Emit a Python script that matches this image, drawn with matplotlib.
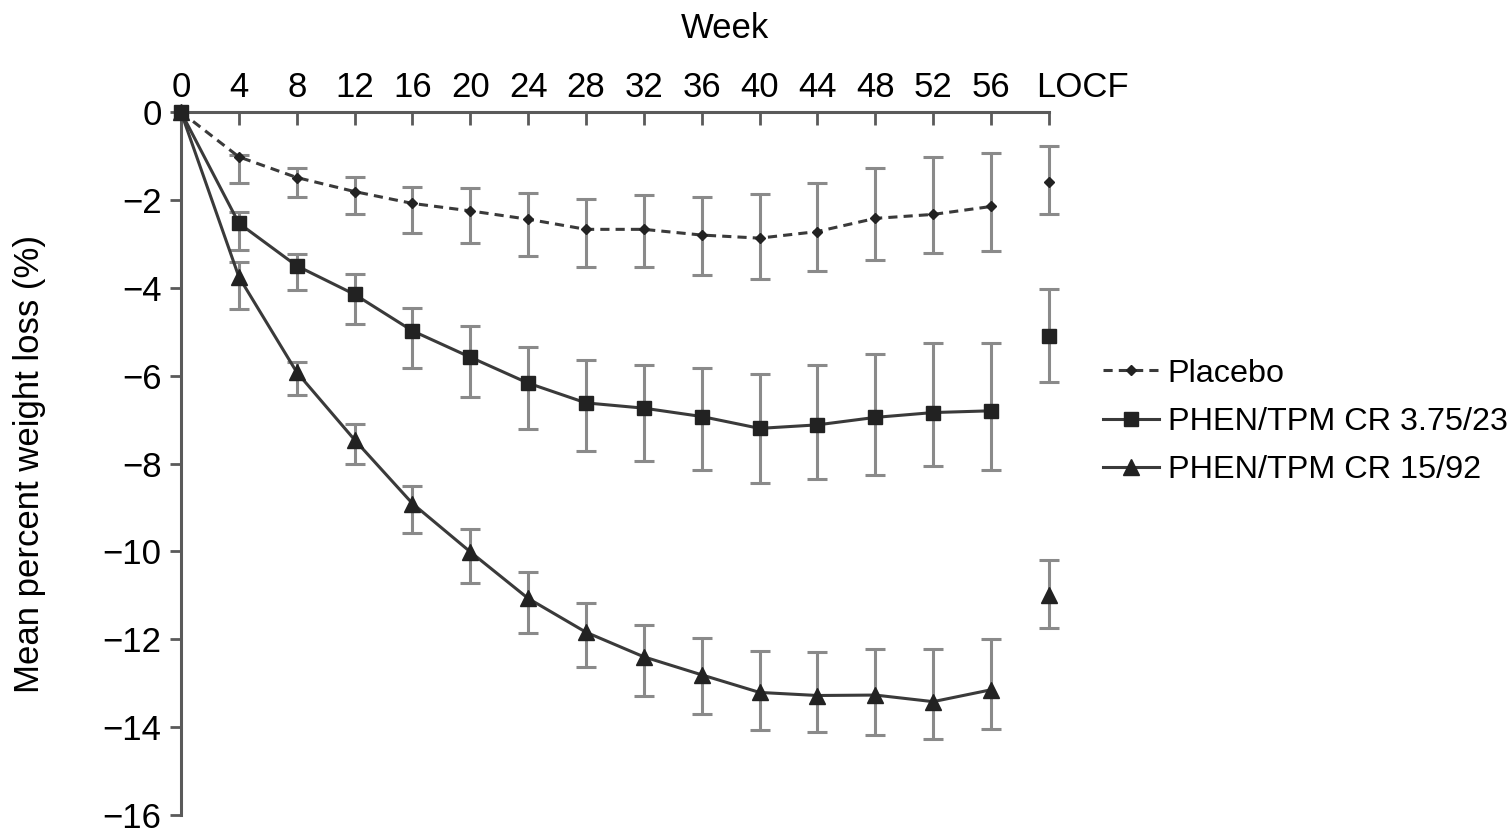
import matplotlib
matplotlib.use("Agg")
import matplotlib.pyplot as plt
import numpy as np

weeks = [0, 4, 8, 12, 16, 20, 24, 28, 32, 36, 40, 44, 48, 52, 56]
locf_pos = 60
tick_labels = [str(w) for w in weeks]

# Placebo
placebo_mean = [0, -1.02, -1.49, -1.81, -2.08, -2.25, -2.44, -2.67, -2.67, -2.80, -2.87, -2.72, -2.42, -2.33, -2.15]
placebo_hi = [0, -0.98, -1.28, -1.47, -1.70, -1.72, -1.84, -1.99, -1.89, -1.93, -1.87, -1.62, -1.27, -1.02, -0.94]
placebo_lo = [0, -1.61, -1.93, -2.32, -2.75, -2.97, -3.28, -3.53, -3.53, -3.71, -3.81, -3.61, -3.37, -3.20, -3.16]
placebo_locf = (-1.59, -0.77, -2.32)

# PHEN/TPM CR 3.75/23
low_mean = [0, -2.53, -3.50, -4.15, -4.98, -5.58, -6.17, -6.62, -6.74, -6.93, -7.20, -7.12, -6.95, -6.84, -6.80]
low_hi = [0, -2.27, -3.24, -3.69, -4.47, -4.86, -5.35, -5.64, -5.76, -5.83, -5.97, -5.76, -5.51, -5.25, -5.25]
low_lo = [0, -3.14, -4.05, -4.82, -5.83, -6.49, -7.22, -7.72, -7.94, -8.15, -8.44, -8.36, -8.26, -8.06, -8.15]
low_locf = (-5.09, -4.02, -6.14)

# PHEN/TPM CR 15/92
high_mean = [0, -3.75, -5.92, -7.46, -8.91, -10.01, -11.07, -11.84, -12.40, -12.81, -13.21, -13.28, -13.27, -13.42, -13.15]
high_hi = [0, -3.41, -5.69, -7.09, -8.51, -9.50, -10.48, -11.18, -11.67, -11.98, -12.26, -12.28, -12.23, -12.23, -12.00]
high_lo = [0, -4.49, -6.44, -8.00, -9.59, -10.73, -11.86, -12.62, -13.28, -13.71, -14.06, -14.10, -14.18, -14.28, -14.05]
high_locf = (-11.0, -10.20, -11.74)

LINE = "#3a3a3a"
MARK = "#222222"
ERR = "#8a8a8a"
SPINE = "#5a5a5a"
FS = 25

plt.rcParams["font.family"] = ["Liberation Sans", "DejaVu Sans"]

fig = plt.figure(figsize=(15.12, 8.33), dpi=100)
ax = fig.add_axes([0.1197, 0.0216, 0.574, 0.8439])


def _errbar(x, m, lo_err, hi_err):
    eb = ax.errorbar(x, m, yerr=[lo_err, hi_err], fmt="none", ecolor=ERR,
                     elinewidth=2.2, capsize=7, capthick=2.2, zorder=2)
    for art in eb.lines[1] + eb.lines[2]:
        art.set_clip_on(False)


def draw_series(mean, hi, lo, locf, marker, ms, ls, label):
    m = np.array(mean)
    _errbar(weeks[1:], m[1:], (m - np.array(lo))[1:], (np.array(hi) - m)[1:])
    ax.plot(weeks, m, color=LINE, lw=2.2, ls=ls, marker=marker, ms=ms,
            mfc=MARK, mec=MARK, label=label, zorder=3, clip_on=False)
    c, h, l = locf
    _errbar([locf_pos], [c], [c - l], [h - c])
    ax.plot([locf_pos], [c], ls="none", marker=marker, ms=ms, mfc=MARK, mec=MARK,
            zorder=3, clip_on=False)


draw_series(placebo_mean, placebo_hi, placebo_lo, placebo_locf, "D", 5, (0, (3, 2)), "Placebo")
draw_series(low_mean, low_hi, low_lo, low_locf, "s", 10, "-", "PHEN/TPM CR 3.75/23")
draw_series(high_mean, high_hi, high_lo, high_locf, "^", 11, "-", "PHEN/TPM CR 15/92")

ax.set_xlim(0, 60)
ax.set_ylim(-16, 0)

ax.xaxis.set_ticks_position("top")
ax.xaxis.set_label_position("top")
ax.set_xticks(weeks + [locf_pos])
ax.set_xticklabels(tick_labels + [""])
ax.set_yticks(np.arange(-16, 1, 2))

ax.tick_params(axis="x", direction="in", length=9, width=2, color=SPINE,
               labelsize=FS, pad=6)
ax.tick_params(axis="y", direction="out", length=8, width=2, color=SPINE,
               labelsize=FS, pad=6)

# LOCF label sits right of its tick
ax.annotate("LOCF", xy=(locf_pos, 1), xycoords=("data", "axes fraction"),
            xytext=(-9, 6), textcoords="offset points", ha="left", va="bottom",
            fontsize=FS)

ax.set_xlabel("Week", fontsize=FS)
ax.xaxis.label.set_va("center")
ax.xaxis.set_label_coords(0.627, 1.1195)
ax.set_ylabel("Mean percent weight loss (%)", fontsize=FS)
ax.yaxis.label.set_va("center")
ax.yaxis.set_label_coords(-0.174, 0.5)

for side in ["right", "bottom"]:
    ax.spines[side].set_visible(False)
for side in ["top", "left"]:
    ax.spines[side].set_color(SPINE)
    ax.spines[side].set_linewidth(2.2)

fig.legend(loc="center left", bbox_to_anchor=(0.71, 0.4934), frameon=False,
           fontsize=23.3, handlelength=1.73, handletextpad=0.28, labelspacing=0.57)

fig.savefig("out.png", dpi=100)
